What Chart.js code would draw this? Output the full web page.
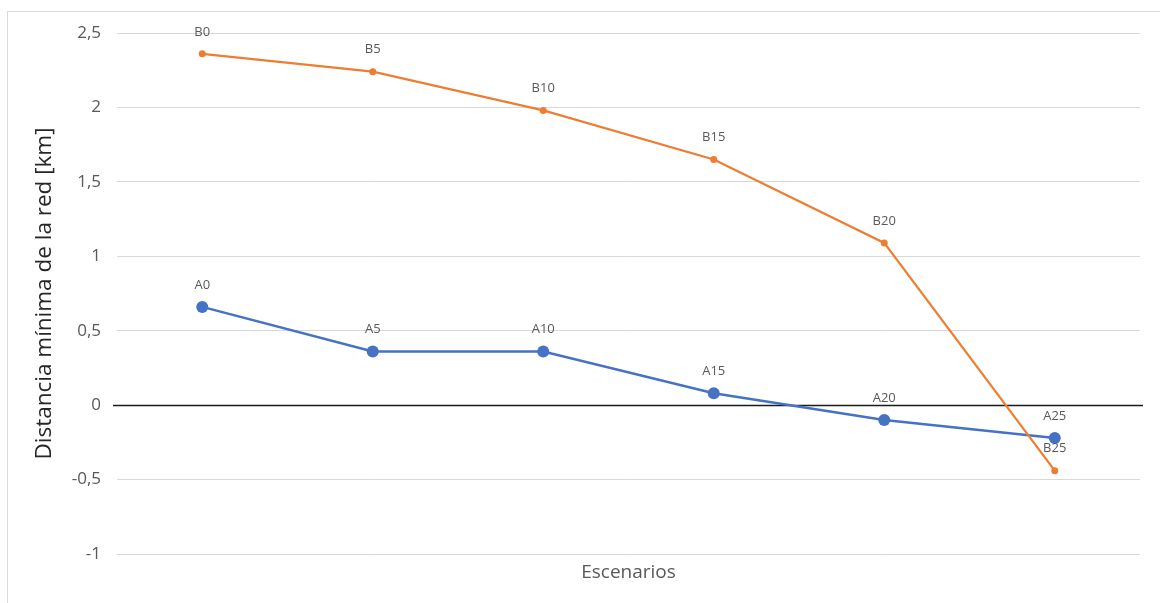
<!DOCTYPE html>
<html>
<head>
<meta charset="utf-8">
<script src="https://cdn.jsdelivr.net/npm/chart.js@4.4.1/dist/chart.umd.min.js"></script>
<style>
  html, body { margin: 0; padding: 0; background: #ffffff; }
  #wrap { position: relative; width: 1160px; height: 603px; }
</style>
</head>
<body>
<div id="wrap"><canvas id="chart" width="1160" height="603"></canvas></div>
<script>
// Scenario steps (percentages) shared by both series
const scenarios = ['0', '5', '10', '15', '20', '25'];
// Series prefixes used for point labels
const prefixA = 'A';
const prefixB = 'B';
// Minimum network distance [km] per scenario
const seriesA = [0.66, 0.36, 0.36, 0.08, -0.10, -0.22];
const seriesB = [2.36, 2.24, 1.98, 1.65, 1.09, -0.44];
// Value axis
const yMin = -1;
const yMax = 2.5;
const yStep = 0.5;

const FONT = '"Open Sans", "Liberation Sans", sans-serif';

// Light frame around the chart area
const framePlugin = {
  id: 'frame',
  beforeDraw(chart) {
    const ctx = chart.ctx;
    ctx.save();
    ctx.fillStyle = '#ffffff';
    ctx.fillRect(0, 0, chart.width, chart.height);
    ctx.strokeStyle = '#d9d9d9';
    ctx.lineWidth = 1;
    ctx.strokeRect(7.5, 11.5, chart.width + 20, chart.height + 20);
    ctx.restore();
  }
};

// Black zero line across the plot
const zeroLinePlugin = {
  id: 'zeroLine',
  beforeDatasetsDraw(chart) {
    const y = Math.round(chart.scales.y.getPixelForValue(0)) + 0.5;
    const { left, right } = chart.chartArea;
    const ctx = chart.ctx;
    ctx.save();
    ctx.strokeStyle = '#1a1a1a';
    ctx.lineWidth = 1.5;
    ctx.beginPath();
    ctx.moveTo(left - 4, y);
    ctx.lineTo(right + 3, y);
    ctx.stroke();
    ctx.restore();
  }
};

// Scenario name above each point
const pointLabelPlugin = {
  id: 'pointLabels',
  afterDatasetsDraw(chart) {
    const ctx = chart.ctx;
    ctx.save();
    ctx.font = '13px ' + FONT;
    ctx.fillStyle = '#595959';
    ctx.textAlign = 'center';
    ctx.textBaseline = 'middle';
    chart.data.datasets.forEach((ds, i) => {
      const meta = chart.getDatasetMeta(i);
      meta.data.forEach((pt, j) => {
        ctx.fillText(ds.prefix + scenarios[j], pt.x, pt.y - 22);
      });
    });
    ctx.restore();
  }
};

new Chart(document.getElementById('chart'), {
  type: 'line',
  data: {
    labels: scenarios,
    datasets: [
      {
        label: 'B',
        prefix: prefixB,
        data: seriesB,
        borderColor: '#ED7D31',
        backgroundColor: '#ED7D31',
        borderWidth: 2.25,
        pointRadius: 3.5,
        pointHoverRadius: 3.5,
        pointBorderWidth: 0,
        tension: 0
      },
      {
        label: 'A',
        prefix: prefixA,
        data: seriesA,
        borderColor: '#4472C4',
        backgroundColor: '#4472C4',
        borderWidth: 2.5,
        pointRadius: 6,
        pointHoverRadius: 6,
        pointBorderWidth: 0,
        tension: 0
      }
    ]
  },
  options: {
    responsive: false,
    animation: false,
    events: [],
    layout: { padding: { left: 31, top: 33, right: 20, bottom: 0 } },
    plugins: {
      legend: { display: false },
      tooltip: { enabled: false }
    },
    scales: {
      x: {
        offset: true,
        grid: { display: false },
        border: { display: false },
        ticks: { display: false },
        title: {
          display: true,
          text: 'Escenarios',
          color: '#595959',
          font: { family: FONT, size: 19 },
          padding: { top: 0, bottom: 19 }
        },
        afterFit(scale) { scale.height = 49; }
      },
      y: {
        min: yMin,
        max: yMax,
        ticks: {
          stepSize: yStep,
          color: '#595959',
          font: { family: FONT, size: 17 },
          padding: 16,
          callback: (v) => String(v).replace('.', ',')
        },
        grid: {
          drawTicks: false,
          color: (c) => (c.tick && c.tick.value === 0) ? 'rgba(0,0,0,0)' : '#d9d9d9',
          lineWidth: 1
        },
        border: { display: false },
        title: {
          display: true,
          text: 'Distancia mínima de la red [km]',
          color: '#262626',
          font: { family: FONT, size: 22.5 },
          padding: { top: 0, bottom: 0 }
        },
        afterFit(scale) { scale.width = 86; }
      }
    }
  },
  plugins: [framePlugin, zeroLinePlugin, pointLabelPlugin]
});
</script>
</body>
</html>
